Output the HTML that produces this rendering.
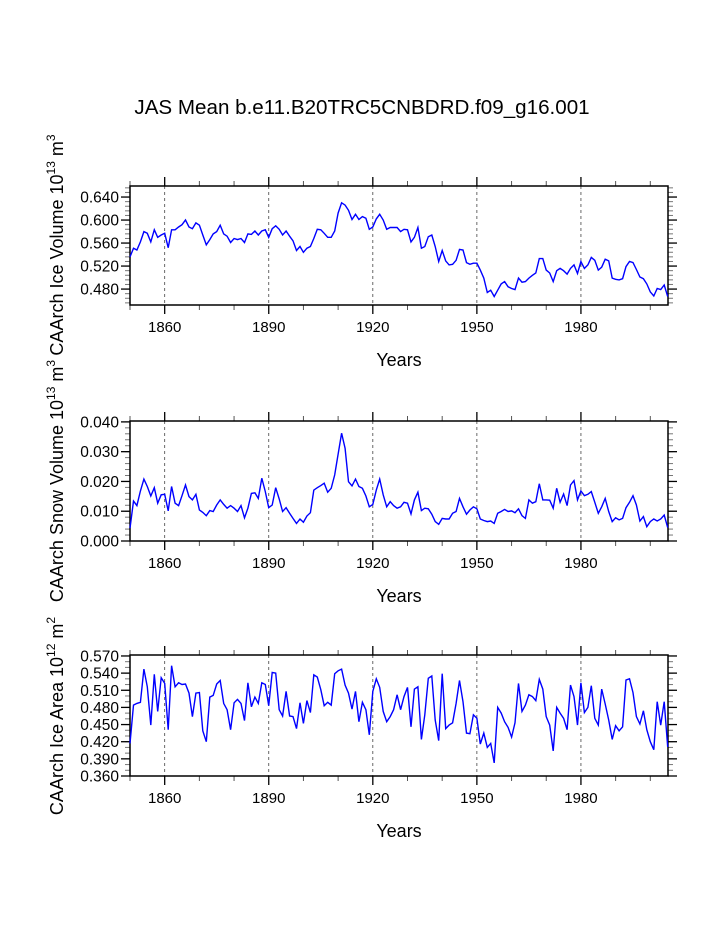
<!DOCTYPE html>
<html><head><meta charset="utf-8"><style>
html,body{margin:0;padding:0;background:#fff;}
svg{display:block;font-family:"Liberation Sans",sans-serif;}
</style></head><body>
<svg id="chart" width="723" height="935" xmlns="http://www.w3.org/2000/svg">
<text x="362" y="114" font-size="20.6" text-anchor="middle">JAS Mean b.e11.B20TRC5CNBDRD.f09_g16.001</text>
</svg>
<script>
const years = [];
for (let y = 1850; y <= 2005; y++) years.push(y);
const xTickYears = [1860, 1890, 1920, 1950, 1980];
const iceVolume = [0.536,0.551,0.548,0.562,0.580,0.577,0.562,0.583,0.570,0.574,0.577,0.552,0.583,0.583,0.588,0.592,0.600,0.588,0.585,0.595,0.591,0.574,0.557,0.566,0.576,0.580,0.591,0.576,0.572,0.561,0.568,0.566,0.568,0.561,0.576,0.575,0.581,0.574,0.581,0.583,0.570,0.585,0.590,0.584,0.574,0.581,0.572,0.564,0.547,0.554,0.544,0.551,0.554,0.568,0.584,0.583,0.577,0.570,0.570,0.581,0.612,0.630,0.626,0.617,0.601,0.610,0.601,0.606,0.603,0.584,0.588,0.602,0.610,0.600,0.584,0.587,0.587,0.587,0.580,0.584,
0.583,0.562,0.570,0.587,0.551,0.554,0.571,0.574,0.554,0.528,0.547,0.529,0.522,0.523,0.530,0.549,0.548,0.526,0.523,0.525,0.525,0.513,0.499,0.474,0.478,0.467,0.478,0.489,0.493,0.484,0.481,0.479,0.499,0.492,0.493,0.499,0.504,0.508,0.533,0.533,0.513,0.508,0.493,0.512,0.516,0.512,0.506,0.516,0.522,0.507,0.528,0.516,0.522,0.535,0.530,0.513,0.518,0.532,0.529,0.499,0.497,0.496,0.498,0.519,0.528,0.526,0.514,0.501,0.498,0.489,0.475,0.468,0.481,0.479,0.487,0.467];
const snowVolume = [0.0043,0.0134,0.0119,0.0168,0.0208,0.0183,0.0151,0.0179,0.0127,0.0155,0.0157,0.0101,0.0183,0.0127,0.0119,0.0152,0.0188,0.0149,0.0138,0.0157,0.0104,0.0096,0.0085,0.0102,0.0099,0.0121,0.0138,0.0123,0.0110,0.0119,0.0110,0.0099,0.0119,0.0078,0.0110,0.0160,0.0162,0.0143,0.0211,0.0166,0.0112,0.0121,0.0179,0.0141,0.0099,0.0112,0.0093,0.0076,0.0059,0.0074,0.0063,0.0084,0.0095,0.0171,0.0179,0.0186,0.0194,0.0164,0.0177,0.0222,0.0291,0.0362,0.0311,0.0199,0.0185,0.0208,0.0183,0.0177,0.0151,0.0115,0.0123,0.0171,0.0208,0.0155,0.0115,0.0132,0.0119,0.0110,0.0115,0.0130,
0.0127,0.0091,0.0138,0.0164,0.0102,0.0110,0.0108,0.0090,0.0065,0.0056,0.0076,0.0074,0.0074,0.0093,0.0099,0.0143,0.0115,0.0090,0.0104,0.0115,0.0108,0.0074,0.0069,0.0065,0.0067,0.0059,0.0093,0.0099,0.0106,0.0099,0.0101,0.0095,0.0108,0.0085,0.0076,0.0138,0.0127,0.0132,0.0192,0.0138,0.0138,0.0137,0.0110,0.0177,0.0130,0.0158,0.0119,0.0188,0.0203,0.0138,0.0168,0.0152,0.0157,0.0166,0.0130,0.0093,0.0115,0.0143,0.0099,0.0065,0.0078,0.0071,0.0076,0.0112,0.0130,0.0152,0.0121,0.0067,0.0082,0.0048,0.0065,0.0074,0.0067,0.0074,0.0087,0.0045];
const iceArea = [0.417,0.484,0.487,0.489,0.547,0.516,0.449,0.538,0.473,0.532,0.522,0.441,0.553,0.516,0.523,0.520,0.521,0.505,0.464,0.505,0.506,0.439,0.420,0.498,0.501,0.521,0.527,0.487,0.476,0.441,0.488,0.494,0.487,0.457,0.523,0.481,0.498,0.487,0.523,0.520,0.483,0.541,0.540,0.476,0.465,0.508,0.465,0.464,0.443,0.488,0.452,0.492,0.471,0.537,0.533,0.511,0.483,0.489,0.484,0.539,0.544,0.547,0.519,0.505,0.477,0.508,0.455,0.489,0.476,0.432,0.508,0.530,0.515,0.473,0.455,0.464,0.476,0.502,0.476,0.499,
0.515,0.446,0.512,0.516,0.424,0.467,0.531,0.535,0.458,0.422,0.539,0.443,0.449,0.453,0.487,0.527,0.490,0.435,0.434,0.467,0.461,0.416,0.435,0.410,0.417,0.383,0.480,0.470,0.455,0.445,0.428,0.453,0.522,0.473,0.484,0.502,0.499,0.492,0.529,0.512,0.464,0.449,0.404,0.480,0.470,0.461,0.441,0.519,0.499,0.449,0.523,0.471,0.480,0.518,0.461,0.449,0.512,0.486,0.458,0.424,0.448,0.439,0.446,0.528,0.530,0.506,0.464,0.451,0.474,0.441,0.420,0.406,0.490,0.449,0.490,0.411];
const volTicks = ["0.480","0.520","0.560","0.600","0.640"];
const snowTicks = ["0.000","0.010","0.020","0.030","0.040"];
const areaTicks = ["0.360","0.390","0.420","0.450","0.480","0.510","0.540","0.570"];

const NS = "http://www.w3.org/2000/svg";
const svg = document.getElementById('chart');
function mk(tag, attrs, parent) {
  const e = document.createElementNS(NS, tag);
  for (const k in attrs) e.setAttribute(k, attrs[k]);
  (parent || svg).appendChild(e);
  return e;
}
const X0 = 130, X1 = 668, YR0 = 1850, YR1 = 2005.1;
const xs = yr => X0 + (yr - YR0) * (X1 - X0) / (YR1 - YR0);

function panel(name, top, bottom, vmin, vmax, ticks, minorStep, data, labelParts, labelCy) {
  const g = mk('g', {});
  
  
  const ys = v => bottom - (v - vmin) * (bottom - top) / (vmax - vmin);
  xTickYears.forEach(yr => {
    const l = mk('line', {x1: xs(yr), x2: xs(yr), y1: top, y2: bottom, stroke: '#444', 'stroke-width': 0.8, 'stroke-dasharray': '3,3'}, g);
    
    
  });
  for (let yr = 1850; yr <= 2005; yr += 10) {
    const major = xTickYears.includes(yr);
    const len = major ? 9 : 5;
    const sw = major ? 1.3 : 1;
    const c = major ? '#000' : '#555';
    mk('line', {x1: xs(yr), x2: xs(yr), y1: bottom, y2: bottom + len, stroke: c, 'stroke-width': sw}, g);
    mk('line', {x1: xs(yr), x2: xs(yr), y1: top, y2: top - len, stroke: c, 'stroke-width': sw}, g);
    if (major) {
      const t = mk('text', {x: xs(yr), y: bottom + 27, 'font-size': 15, 'text-anchor': 'middle'}, g);
      t.textContent = yr;
      
      
    }
  }
  for (let v = Math.ceil(vmin / minorStep - 1e-6) * minorStep; v <= vmax + 1e-9; v += minorStep) {
    const y = ys(v);
    mk('line', {x1: X0, x2: X0 - 5, y1: y, y2: y, stroke: '#777', 'stroke-width': 1}, g);
    mk('line', {x1: X1, x2: X1 + 5, y1: y, y2: y, stroke: '#777', 'stroke-width': 1}, g);
  }
  ticks.forEach(s => {
    const v = parseFloat(s), y = ys(v);
    mk('line', {x1: X0, x2: X0 - 9, y1: y, y2: y, stroke: '#000', 'stroke-width': 1.3}, g);
    mk('line', {x1: X1, x2: X1 + 9, y1: y, y2: y, stroke: '#000', 'stroke-width': 1.3}, g);
    const t = mk('text', {x: 119, y: y + 5.5, 'font-size': 15.5, 'text-anchor': 'end'}, g);
    t.textContent = s;
    
    
  });
  const r = mk('rect', {x: X0, y: top, width: X1 - X0, height: bottom - top, fill: 'none', stroke: '#000', 'stroke-width': 1.5}, g);
  
  
  const pts = data.map((v, i) => xs(years[i]).toFixed(1) + ',' + ys(v).toFixed(1)).join(' ');
  const pl = mk('polyline', {points: pts, fill: 'none', stroke: '#0000ff', 'stroke-width': 1.4}, g);
  
  
  const xt = mk('text', {x: 399, y: bottom + 61, 'font-size': 18, 'text-anchor': 'middle'}, g);
  xt.textContent = 'Years';
  
  
  const yt = mk('text', {x: 0, y: 0, 'font-size': 18, 'text-anchor': 'middle', transform: 'translate(63,' + labelCy + ') rotate(-90)'}, g);
  
  
  const a = mk('tspan', {}, yt); a.textContent = labelParts[0] + ' 10';
  const b = mk('tspan', {dy: -8, 'font-size': 12}, yt); b.textContent = labelParts[1];
  const c = mk('tspan', {dy: 8}, yt); c.textContent = ' m';
  const d = mk('tspan', {dy: -8, 'font-size': 12}, yt); d.textContent = labelParts[2];
}
panel('ice-volume', 186, 305, 0.4523, 0.6592, volTicks, 0.008, iceVolume, ['CAArch Ice Volume', '13', '3'], 245);
panel('snow-volume', 421, 541, 0.0, 0.0403, snowTicks, 0.002, snowVolume, ['CAArch Snow Volume', '13', '3'], 481);
panel('ice-area', 655, 776, 0.36, 0.5717, areaTicks, 0.01, iceArea, ['CAArch Ice Area', '12', '2'], 716);
</script>
</body></html>
